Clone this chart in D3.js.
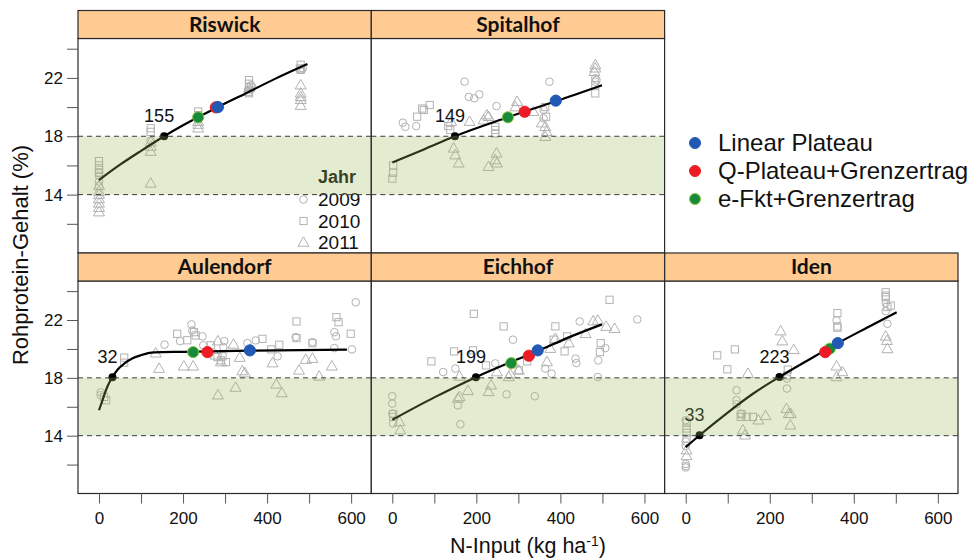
<!DOCTYPE html>
<html><head><meta charset="utf-8">
<script src="https://cdn.jsdelivr.net/npm/d3@7"></script>
<style>body{margin:0;background:#fff}svg{display:block}</style>
</head><body>
<script>
// ---------- DATA ----------
const sites = ["Riswick","Spitalhof","Aulendorf","Eichhof","Iden"];
const years = ["2009","2010","2011"];
const methods = ["Linear Plateau","Q-Plateau+Grenzertrag","e-Fkt+Grenzertrag"];
const xTickLabels = [0,200,400,600];
const xTicksMinor = [0,100,200,300,400,500,600];
const yTickLabels = [14,18,22];
const yTicksMinor = [12,14,16,18,20,22,24];
const bandRange = [14,18];

// points: [N-input, protein, year index 0=2009 1=2010 2=2011]
const riswickPts = [
 [0,16.3,1],[0,16.0,1],[0,15.7,1],[0,15.5,1],
 [0,15.5,0],[0,15.3,0],[0,14.9,0],[0,14.6,0],
 [0,14.6,2],[0,14.2,2],[0,14.0,2],[0,13.7,2],[0,13.4,2],[0,13.1,2],[0,12.8,2],
 [123,18.55,1],[123,18.3,1],[123,17.7,0],[123,17.6,2],[123,17.3,2],[123,16.95,2],[123,14.77,2],
 [236,19.7,1],[236,19.45,1],[238,19.2,0],[236,19.0,2],[236,18.8,2],[236,18.55,2],
 [357,21.85,1],[357,21.6,1],[357,21.4,1],[355,21.05,1],[357,20.95,1],[362,21.5,0],[365,21.35,0],[360,21.2,0],[357,21.3,2],
 [480,22.9,1],[478,22.65,1],[480,22.55,1],[485,22.65,0],[482,22.55,0],
 [480,21.5,2],[480,20.94,2],[480,20.7,2],[480,20.5,2],[480,20.1,2]
];
const spitalhofPts = [
 [2,16.0,1],[2,15.5,1],[0,15.1,1],
 [25,18.93,0],[31,18.65,0],[57,18.7,0],
 [59,19.34,1],[71,19.9,1],[75,19.8,1],[89,20.14,1],
 [172,21.74,0],[182,20.7,0],[195,20.6,0],[207,20.87,0],[248,20.07,0],[374,21.74,0],
 [133,18.7,1],[138,18.43,1],[245,18.43,1],[245,18.2,1],[245,18.65,1],
 [146,17.17,2],[150,16.71,2],[158,16.15,2],[229,15.91,2],[248,16.83,2],[245,16.37,2],[249,16.15,2],
 [217,19.1,2],[225,19.45,2],[229,19.34,2],[184,19.0,2],[140,19.0,2],
 [297,20.37,2],[293,20.0,2],[336,19.68,2],
 [360,19.8,0],[364,20.0,1],[366,19.34,1],[360,19.23,0],
 [356,18.9,2],[364,18.65,2],[367,18.3,2],[364,17.97,2],
 [483,22.88,2],[483,22.66,2],[481,22.42,2],
 [483,21.97,0],[486,21.85,0],[483,21.74,0],[483,21.51,1],[483,20.94,1]
];
const aulendorfPts = [
 [4,17.0,0],[4,16.8,0],[17,16.45,1],[12,16.68,1],[60,19.4,1],[60,19.05,1],
 [156,20.3,0],[135,19.7,2],[143,18.64,2],
 [186,21.05,1],[210,20.6,1],[230,20.93,1],[226,21.16,1],
 [220,21.7,0],[222,21.28,0],[193,20.54,0],[246,20.87,0],[248,20.25,0],[298,20.54,0],[296,20.13,0],[353,20.4,0],[373,20.59,0],
 [202,18.8,2],[224,18.8,2],[283,20.54,2],[320,20.31,2],[278,19.56,2],[290,19.09,2],[335,19.4,2],[341,18.47,2],[347,18.33,2],
 [266,20.25,1],[282,19.44,1],[290,19.21,1],[302,19.09,1],[294,19.49,1],
 [283,16.8,2],[325,17.33,2],[422,17.55,2],[435,16.95,2],
 [389,20.7,1],[429,20.29,1],[410,19.97,1],[470,21.9,1],[470,20.75,1],[508,20.4,1],[565,22.2,1],[570,21.85,1],[599,21.05,1],
 [425,19.49,0],[468,20.82,0],[508,20.47,0],[560,21.16,0],[564,20.87,0],[560,20.06,0],[602,19.97,0],[611,23.23,0],
 [413,19.02,2],[476,18.52,2],[492,19.26,2],[508,19.33,2],[524,18.1,2],[554,18.8,2]
];
const eichhofPts = [
 [0,16.73,0],[0,16.22,0],[0,15.53,0],[2,14.84,0],[2,15.5,1],[2,15.3,1],[17,14.95,2],[19,14.38,2],
 [93,19.14,1],[147,19.83,1],[194,22.43,1],[192,19.9,1],[223,18.86,1],[265,21.56,1],[301,18.52,1],[321,19.14,1],
 [388,21.56,1],[384,20.64,1],[416,20.87,1],[410,19.83,1],[496,20.4,1],[494,19.78,1],[517,23.4,1],
 [121,18.4,0],[150,18.64,0],[156,16.1,0],[162,14.79,0],[245,19.0,0],[272,16.86,0],[287,20.64,0],[339,16.73,0],
 [364,18.64,0],[379,18.29,0],[436,19.33,0],[438,19.02,0],[446,21.9,0],[490,19.21,0],[507,20.06,0],[489,18.06,0],[583,22.04,0],
 [160,18.1,2],[180,17.1,2],[160,16.68,2],[156,16.57,2],[229,17.03,2],[235,17.49,2],[249,18.4,2],[277,18.06,2],[281,18.25,2],
 [288,18.99,2],[301,18.52,2],[388,20.71,2],[376,20.02,2],[368,19.1,2],[420,20.4,2],[460,21.05,2],[478,21.92,2],[489,21.97,2],
 [509,21.55,2],[529,21.4,2]
];
const idenPts = [
 [2,14.9,1],[2,14.5,1],[2,14.2,1],[2,13.8,1],
 [0,15.07,0],[0,13.6,0],[0,13.3,0],[0,12.05,0],[1,11.9,0],[0,11.8,0],
 [2,13.0,2],[2,12.6,2],
 [75,19.56,1],[117,19.97,1],[99,18.59,1],[133,15.48,1],[160,15.3,1],[145,15.3,1],[131,15.3,1],[243,18.57,1],[241,18.17,1],
 [361,22.48,1],[361,21.56,1],[361,21.47,1],[476,23.92,1],[476,23.69,1],[476,23.58,1],[488,23.0,1],[480,22.9,1],
 [121,17.14,0],[121,16.45,0],[121,16.17,0],[131,15.53,0],[241,17.26,0],[241,17.95,0],[359,21.97,0],[476,23.16,0],[476,22.61,0],[480,21.74,0],
 [148,18.29,2],[136,14.38,2],[141,14.03,2],[173,15.07,2],[190,15.37,2],[226,21.23,2],[230,20.54,2],[257,19.94,2],
 [240,15.86,2],[245,15.51,2],[250,15.51,2],[249,14.72,2],[359,18.8,2],[373,18.41,2],[359,18.06,2],
 [476,20.87,2],[479,20.57,2],[480,20.0,2]
];

// fitted curves: [N-input, protein]
const riswickCurve = [[0,15.0],[50,16.05],[100,17.0],[155,18.0],[200,18.75],[283,20.0],[350,20.95],[420,21.95],[496,22.95]];
const spitalhofCurve = [[0,16.2],[75,17.1],[149,18.0],[275,19.3],[315,19.7],[389,20.4],[499,21.5]];
const aulendorfCurve = [[0,15.76],[10,16.6],[20,17.4],[32,18.05],[45,18.6],[60,18.98],[80,19.35],[99,19.56],[131,19.76],[200,19.8],[360,19.88],[590,19.95]];
const eichhofCurve = [[0,15.1],[100,16.65],[199,18.05],[283,19.1],[346,19.85],[420,20.8],[499,21.7]];
const idenCurve = [[0,13.2],[33,14.03],[100,15.6],[160,16.9],[223,18.06],[290,19.2],[362,20.4],[430,21.45],[502,22.54]];

// optimum points per method [Linear Plateau, Q-Plateau, e-Fkt]: [N, protein]
const riswickOpt = [[283,20.0],[278,19.98],[236,19.3]];
const spitalhofOpt = [[389,20.44],[315,19.68],[275,19.3]];
const aulendorfOpt = [[359,19.9],[258,19.78],[224,19.78]];
const eichhofOpt = [[346,19.9],[325,19.53],[283,19.02]];
const idenOpt = [[362,20.4],[332,19.78],[343,20.02]];

// N-input where curve reaches band limits (labelled black dots)
const riswickMarks = [[155,18.0]];
const spitalhofMarks = [[149,18.0]];
const aulendorfMarks = [[32,18.05]];
const eichhofMarks = [[199,18.05]];
const idenMarks = [[223,18.06],[33,14.03]];

// ---------- LAYOUT ----------
const W = 976, H = 559;
const colLeft = [78, 371.3, 664.7], colW = 293.3;
const rows = [{stripTop:10.5, top:38.5, bottom:253}, {stripTop:253, top:281, bottom:493.5}];
const panelDefs = [
 {name:"Riswick", col:0,row:0, pts:riswickPts, curve:riswickCurve, opt:riswickOpt, marks:riswickMarks},
 {name:"Spitalhof", col:1,row:0, pts:spitalhofPts, curve:spitalhofCurve, opt:spitalhofOpt, marks:spitalhofMarks},
 {name:"Aulendorf", col:0,row:1, pts:aulendorfPts, curve:aulendorfCurve, opt:aulendorfOpt, marks:aulendorfMarks},
 {name:"Eichhof", col:1,row:1, pts:eichhofPts, curve:eichhofCurve, opt:eichhofOpt, marks:eichhofMarks},
 {name:"Iden", col:2,row:1, pts:idenPts, curve:idenCurve, opt:idenOpt, marks:idenMarks}
];
const methodColors = ["#2159b4","#ed1c24","#178a3b"];
const methodStroke = ["#2159b4","#ed1c24","#8dc63f"];
const ptColor = "#b2b2b2";
const font = "'Liberation Sans', Arial, sans-serif";

const svg = d3.select("body").append("svg").attr("width",W).attr("height",H);
const defs = svg.append("defs");

function xScale(col){ return d3.scaleLinear().domain([-50,648]).range([colLeft[col], colLeft[col]+colW]); }
function yScale(row){ return d3.scaleLinear().domain([10,24.7]).range([rows[row].bottom, rows[row].top]); }

function drawSymbol(g, x, y, yr){
  if(yr===0){
    g.append("circle").attr("cx",x).attr("cy",y).attr("r",3.8)
     .attr("fill","none").attr("stroke",ptColor).attr("stroke-width",1);
  } else if(yr===1){
    g.append("rect").attr("x",x-3.6).attr("y",y-3.6).attr("width",7.2).attr("height",7.2)
     .attr("fill","none").attr("stroke",ptColor).attr("stroke-width",1);
  } else {
    g.append("path").attr("d",d3.symbol(d3.symbolTriangle,52)()).attr("transform",`translate(${x},${y+0.6})`)
     .attr("fill","none").attr("stroke",ptColor).attr("stroke-width",1);
  }
}

panelDefs.forEach((p,i)=>{
  const x = xScale(p.col), y = yScale(p.row);
  const L = colLeft[p.col], R = L+colW, T = rows[p.row].top, B = rows[p.row].bottom;
  const cid = "clip"+i;
  defs.append("clipPath").attr("id",cid).append("rect").attr("x",L).attr("y",T).attr("width",colW).attr("height",B-T);
  const g = svg.append("g").attr("clip-path",`url(#${cid})`);
  g.append("rect").attr("x",L).attr("y",T).attr("width",colW).attr("height",B-T).attr("fill","#fff");
  p.pts.forEach(d=>drawSymbol(g, x(d[0]), y(d[1]), d[2]));
  g.append("path").datum(p.curve)
   .attr("d", d3.line().x(d=>x(d[0])).y(d=>y(d[1])).curve(d3.curveMonotoneX))
   .attr("fill","none").attr("stroke","#000").attr("stroke-width",2.2);
  [2,1,0].forEach(k=>{
    g.append("circle").attr("cx",x(p.opt[k][0])).attr("cy",y(p.opt[k][1])).attr("r",5.6)
     .attr("fill",methodColors[k]).attr("stroke",methodStroke[k]).attr("stroke-width",1);
  });
  p.marks.forEach(d=>{
    g.append("circle").attr("cx",x(d[0])).attr("cy",y(d[1])).attr("r",4).attr("fill","#000");
    g.append("text").attr("x",x(d[0])-5).attr("y",y(d[1])-14).attr("text-anchor","middle")
     .attr("font-family",font).attr("font-size",18).attr("fill","#111").text(d[0]);
  });
  if(p.name==="Riswick"){
    g.append("text").attr("x",337).attr("y",183).attr("text-anchor","middle").attr("font-family",font)
     .attr("font-weight","bold").attr("font-size",18).attr("fill","#111").text("Jahr");
    years.forEach((yr,k)=>{
      const cy = 199.5 + k*21.5;
      drawSymbol(g, 303.5, cy, k);
      g.append("text").attr("x",318).attr("y",cy+6.5).attr("font-family",font).attr("font-size",19)
       .attr("fill","#111").text(yr);
    });
  }
  g.append("rect").attr("x",L).attr("width",colW).attr("y",y(bandRange[1])).attr("height",y(bandRange[0])-y(bandRange[1]))
   .attr("fill","#9bbb59").attr("fill-opacity",0.28);
  bandRange.forEach(v=>{
    g.append("line").attr("x1",L).attr("x2",R).attr("y1",y(v)).attr("y2",y(v))
     .attr("stroke","#3a3a3a").attr("stroke-width",1).attr("stroke-dasharray","5,4");
  });
  svg.append("rect").attr("x",L).attr("y",T).attr("width",colW).attr("height",B-T)
   .attr("fill","none").attr("stroke","#2a2a2a").attr("stroke-width",1.2);
  const ST = rows[p.row].stripTop;
  svg.append("rect").attr("x",L).attr("y",ST).attr("width",colW).attr("height",T-ST)
   .attr("fill","#ffcb93").attr("stroke","#2a2a2a").attr("stroke-width",1.2);
  svg.append("text").attr("x",L+colW/2).attr("y",ST+(T-ST)/2+7).attr("text-anchor","middle")
   .attr("font-family","Lato, 'Open Sans', sans-serif").attr("font-weight","bold").attr("font-size",21)
   .attr("fill","#111").text(p.name);
});

rows.forEach((r,ri)=>{
  const y = yScale(ri);
  const ax = svg.append("g").attr("transform",`translate(${colLeft[0]},0)`)
    .call(d3.axisLeft(y).tickValues(yTicksMinor).tickSize(11).tickFormat(d=>yTickLabels.includes(d)?d:""));
  ax.select(".domain").remove();
  ax.selectAll(".tick line").attr("stroke","#555");
  ax.selectAll("text").attr("font-family",font).attr("font-size",17).attr("fill","#111").attr("dx","-1");
});
[0,1,2].forEach(c=>{
  const x = xScale(c);
  const ax = svg.append("g").attr("transform",`translate(0,${rows[1].bottom})`)
    .call(d3.axisBottom(x).tickValues(xTicksMinor).tickSize(10).tickPadding(8).tickFormat(d=>xTickLabels.includes(d)?d:""));
  ax.select(".domain").remove();
  ax.selectAll(".tick line").attr("stroke","#555");
  ax.selectAll("text").attr("font-family",font).attr("font-size",17).attr("fill","#111");
});

svg.append("text").attr("transform","translate(28,255) rotate(-90)").attr("text-anchor","middle")
  .attr("font-family",font).attr("font-size",22).attr("fill","#111").text("Rohprotein-Gehalt (%)");
const xt = svg.append("text").attr("x",528).attr("y",553).attr("text-anchor","middle")
  .attr("font-family",font).attr("font-size",21.5).attr("fill","#111");
xt.append("tspan").text("N-Input (kg ha");
xt.append("tspan").attr("dy",-7).attr("font-size",14).text("-1");
xt.append("tspan").attr("dy",7).text(")");

methods.forEach((m,k)=>{
  const cy = 143 + k*28;
  svg.append("circle").attr("cx",695).attr("cy",cy).attr("r",5.5).attr("fill",methodColors[k])
    .attr("stroke",methodStroke[k]).attr("stroke-width",1);
  svg.append("text").attr("x",718).attr("y",cy+8).attr("font-family",font).attr("font-size",24)
    .attr("fill","#111").text(m);
});
</script>
</body></html>
